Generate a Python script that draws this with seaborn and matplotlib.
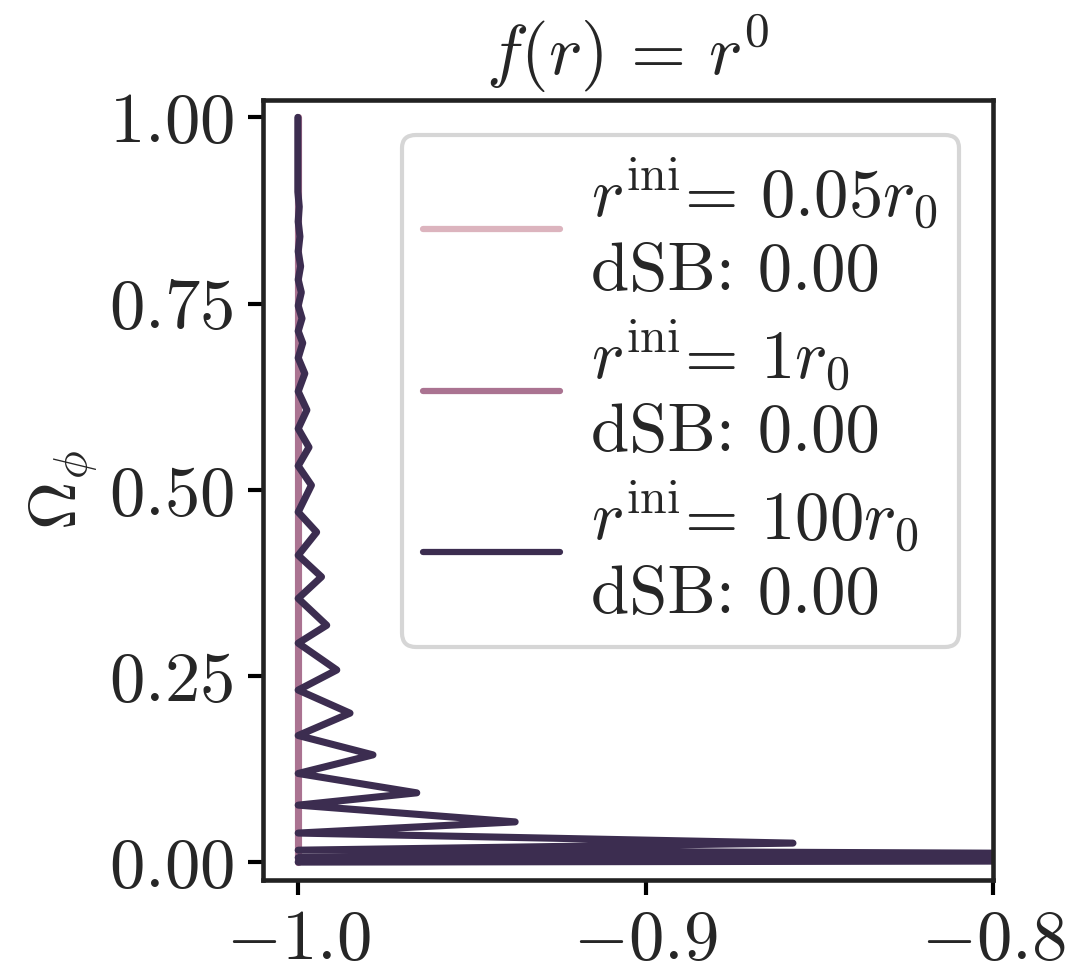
import pandas as pd
import seaborn as sns
import matplotlib
matplotlib.use("Agg")
import matplotlib.pyplot as plt

# legend entries
r_ini = ["0.05", "1", "100"]
dsb = [0.00, 0.00, 0.00]
colors = ["#dcb4be", "#aa7391", "#3c2d50"]

# r_ini = 0.05 r0 and 1 r0: straight down along w = -1
w_005 = [-1.0, -1.0]
om_005 = [1.0, 0.0]
w_1 = [-1.0, -1.0]
om_1 = [1.0, 0.0]

# r_ini = 100 r0: zig-zag, turning points
w_100 = [-1.0, -1.0, -0.9996, -0.9999, -0.9994, -0.9999, -0.9992, -0.9999,
         -0.9990, -0.9999, -0.9988, -0.9999, -0.9986, -0.9999, -0.9980, -0.9999,
         -0.9974, -0.9999, -0.9968, -0.9999, -0.9961, -0.9999, -0.9946, -0.9999,
         -0.9932, -0.9999, -0.9917, -0.9999, -0.9888, -0.9999, -0.9850, -0.9999,
         -0.9784, -0.9999, -0.9658, -0.9999, -0.9375, -0.9999, -0.8576, -0.9999,
         -0.70, -0.9999, -0.55, -0.9999]
om_100 = [1.0, 0.90, 0.88, 0.86, 0.84, 0.82, 0.80, 0.782,
          0.765, 0.747, 0.73, 0.713, 0.697, 0.677, 0.656, 0.632,
          0.607, 0.582, 0.557, 0.532, 0.506, 0.470, 0.443, 0.412,
          0.383, 0.354, 0.318, 0.294, 0.258, 0.231, 0.200, 0.170,
          0.144, 0.119, 0.093, 0.0765, 0.054, 0.039, 0.0255, 0.016,
          0.010, 0.006, 0.003, 0.0]

labels = [f"$r^{{\\rm ini}}$= ${v}r_0$\ndSB: {d:.2f}" for v, d in zip(r_ini, dsb)]

frames = []
for lab, w, om in zip(labels, [w_005, w_1, w_100], [om_005, om_1, om_100]):
    frames.append(pd.DataFrame({"w": w, "omega": om, "run": lab}))
df = pd.concat(frames, ignore_index=True)

sns.set_theme(style="ticks")
plt.rcParams["font.family"] = "serif"
plt.rcParams["font.serif"] = ["cmr10", "DejaVu Serif"]
plt.rcParams["mathtext.fontset"] = "cm"
plt.rcParams["axes.formatter.use_mathtext"] = True
plt.rcParams["axes.unicode_minus"] = True

fig, ax = plt.subplots(figsize=(1068 / 300, 973 / 300), dpi=300)
fig.subplots_adjust(left=0.246, right=0.930, bottom=0.0956, top=0.897)

sns.lineplot(data=df, x="w", y="omega", hue="run", palette=colors,
             sort=False, estimator=None, linewidth=1.7, ax=ax)

ax.set_xlim(-1.0101, -0.8)
ax.set_ylim(-0.024, 1.023)
ax.set_xticks([-1.0, -0.9, -0.8])
ax.set_yticks([0.0, 0.25, 0.5, 0.75, 1.0])
ax.tick_params(labelsize=17, width=1.0, length=3.5, color="black")
for s in ax.spines.values():
    s.set_color("#222222")
    s.set_linewidth(1.1)

ax.set_xlabel("")
ax.set_ylabel(r"$\Omega_\phi$", fontsize=16, labelpad=2)
ax.set_title(r"$f(r)\, =\, r^0$", fontsize=17)
leg = ax.legend(loc="upper right", fontsize=16.5, title=None,
                handletextpad=0.45, labelspacing=0.2, borderpad=0.3,
                handlelength=2.0)
for line in leg.get_lines():
    line.set_linewidth(1.5)

fig.savefig("out.png", dpi=300)
